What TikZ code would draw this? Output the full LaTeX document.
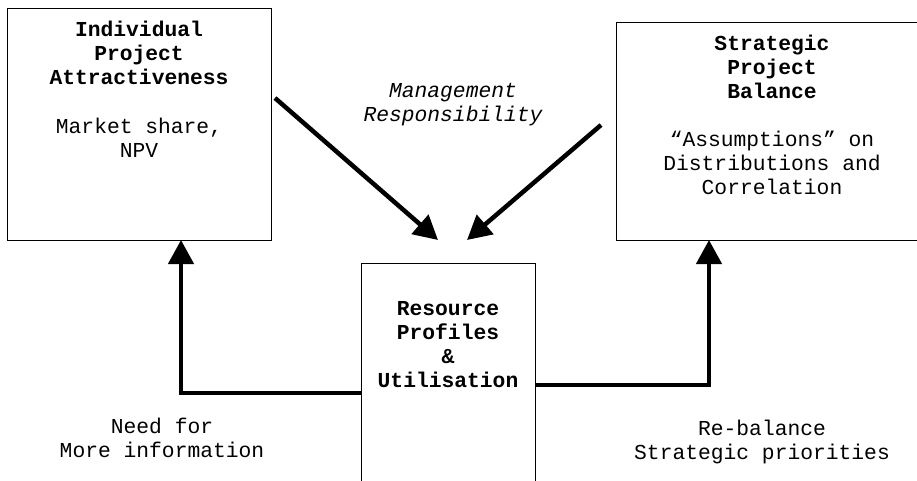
\documentclass[tikz,border=0pt]{standalone}
\usepackage{fontspec}
\setmainfont{Liberation Mono}
\usetikzlibrary{arrows.meta}
\begin{document}
\begin{tikzpicture}[x=1pt,y=-1pt,
  box/.style={draw=black, line width=1.3pt, fill=none, inner sep=0pt, rectangle},
  txt/.style={align=center, inner sep=0pt, font=\fontsize{21.3}{24}\selectfont},
  bold/.style={txt, font=\fontsize{21.3}{24}\selectfont\bfseries},
  flow/.style={line width=4.5pt, -{Triangle[length=24pt,width=25pt]}}]
\useasboundingbox (0,0) rectangle (917,480);
% boxes
\node[box, minimum width=264pt, minimum height=232pt, anchor=north west] (lbox) at (7,8) {};
\node[box, minimum width=312pt, minimum height=218pt, anchor=north west] (rbox) at (616,22) {};
\node[box, minimum width=174pt, minimum height=240pt, anchor=north west] (mid) at (361,263) {};
% texts
\node[bold] (lt) at (139,53) {Individual\\Project\\Attractiveness};
\node[txt] (ls) at (139,138) {Market share,\\NPV};
\node[bold] (rt) at (772,67) {Strategic\\Project\\Balance};
\node[txt] (rs) at (772,163) {“Assumptions” on\\Distributions and\\Correlation};
\node[bold] (mt) at (448,345) {Resource\\Profiles\\\&\\Utilisation};
\node[txt, font=\fontsize{21.3}{24}\selectfont\itshape] (mg) at (453,105) {Management\\Responsibility};
\node[txt] (nf) at (162,438) {Need for\\More information};
\node[txt] (rb) at (762,442) {Re-balance\\Strategic priorities};
% diagonal arrows
\coordinate (d1s) at (275,98);
\coordinate (d1e) at (438,240);
\coordinate (d2s) at (601,125);
\coordinate (d2e) at (467,240);
\draw[flow] (d1s) -- (d1e);
\draw[flow] (d2s) -- (d2e);
% feedback arrows
\coordinate (fl) at (361,393);
\coordinate (fla) at (181,240);
\coordinate (fr) at (535,385);
\coordinate (fra) at (709,240);
\draw[flow] (fl) -| (fla);
\draw[flow] (fr) -| (fra);
\end{tikzpicture}
\end{document}
